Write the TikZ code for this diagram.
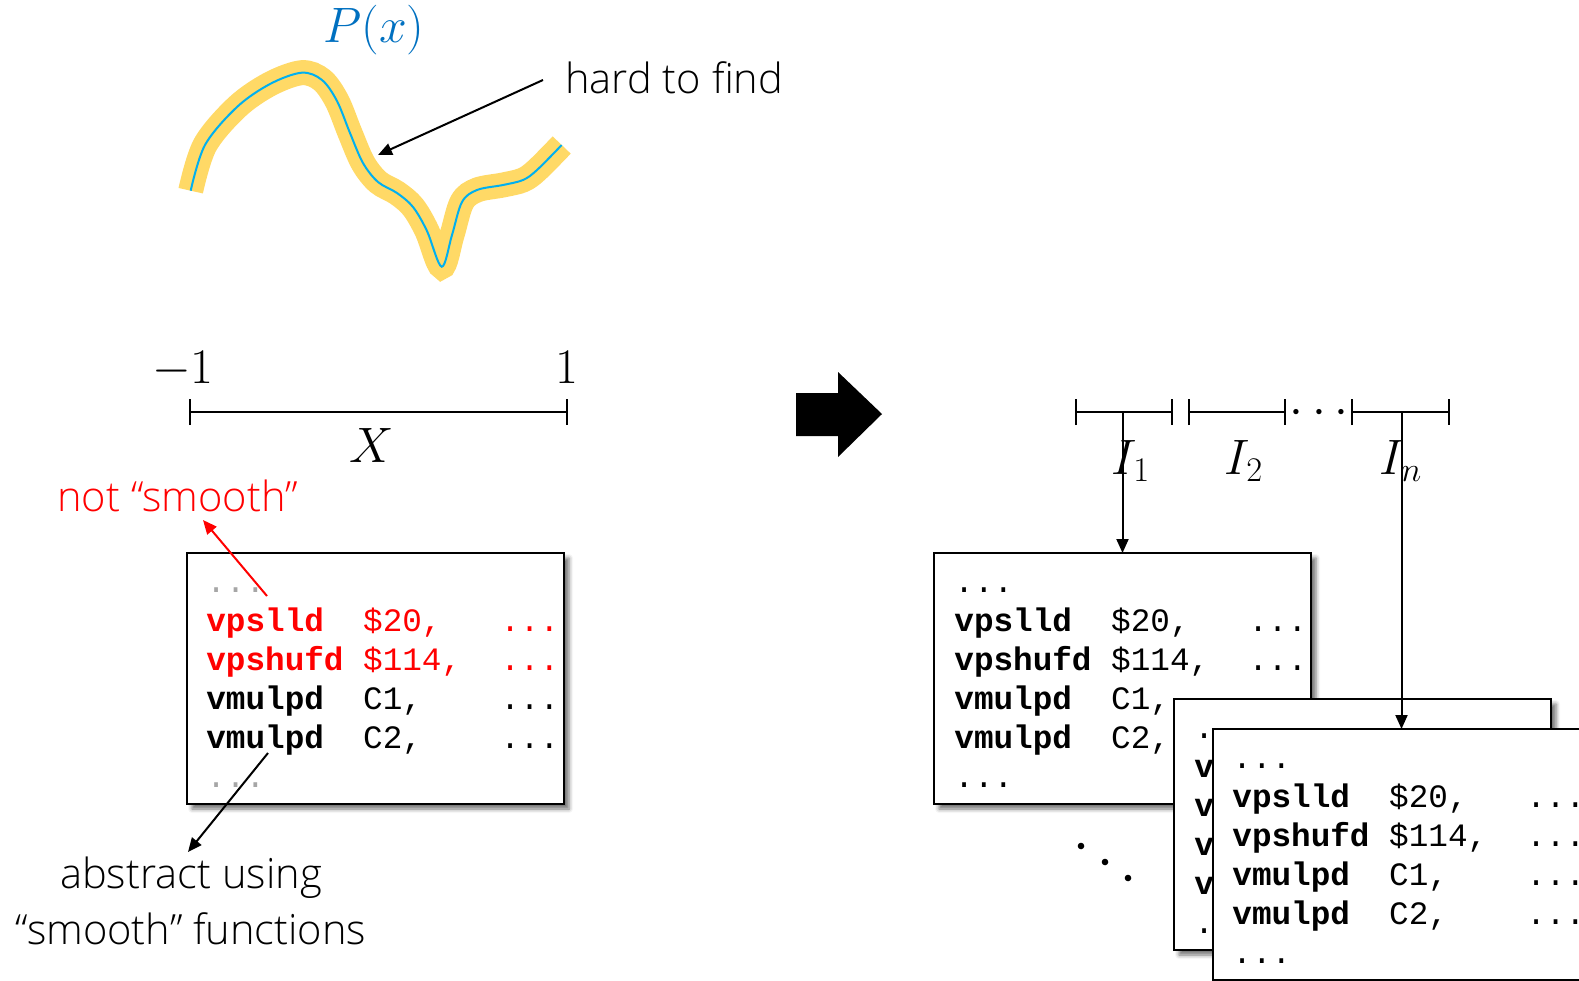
\documentclass[tikz,border=0pt]{standalone}
\usepackage{fontspec}
\usetikzlibrary{arrows.meta,shadows.blur}
\newfontfamily\uifont{Open Sans Light}
\newfontfamily\codefont{Liberation Mono}
\definecolor{hiliteyellow}{RGB}{255,217,102}
\definecolor{traceblue}{RGB}{0,176,240}
\definecolor{mathblue}{RGB}{0,112,192}
\definecolor{elidegray}{RGB}{166,166,166}
\newlength\cw
\setlength\cw{9.8pt}
% one instruction: mnemonic, operand, rest
\newcommand\asm[3]{\makebox[8\cw][l]{\bfseries#1}\makebox[7\cw][l]{#2}#3}
% a short listing; #1 colour of the elided lines, #2 colour of the first two instructions
\newcommand\listing[2]{%
  \begin{tabular}[t]{@{}l@{}}
  \textcolor{#1}{...}\\
  \color{#2}\asm{vpslld}{\$20,}{...}\\
  \color{#2}\asm{vpshufd}{\$114,}{...}\\
  \asm{vmulpd}{C1,}{...}\\
  \asm{vmulpd}{C2,}{...}\\
  \textcolor{#1}{...}
  \end{tabular}}
\begin{document}
\begin{tikzpicture}[x=0.5pt,y=-0.5pt,
  codebox/.style={draw=black,line width=1pt,fill=white,minimum width=188.5pt,
    minimum height=125.5pt,inner sep=0pt,outer sep=0pt,anchor=north west,
    blur shadow={shadow xshift=2.5pt,shadow yshift=-2.5pt,shadow blur radius=2pt,shadow opacity=55}},
  codetext/.style={anchor=base west,inner sep=0pt,font={\codefont\fontsize{16.33}{19.5}\selectfont}},
  uitext/.style={inner sep=0pt,font={\uifont\fontsize{20.8}{28}\selectfont}},
  mathtext/.style={inner sep=0pt,anchor=base,font={\fontsize{27}{32}\selectfont}},
  pointer/.style={line width=1pt,-{Triangle[length=7pt,width=6pt]}},
  interval/.style={line width=1pt,{Bar[width=13pt]}-{Bar[width=13pt]}},
]
\useasboundingbox (0,0) rectangle (1579,980);
\clip (0,0) rectangle (1579,980);

% the polynomial and its highlighted band
\draw[traceblue,line width=1pt,line cap=butt,
      preaction={draw=hiliteyellow,line width=12.5pt,line cap=butt}]
  plot[smooth,tension=0.55] coordinates {
  (190.7,190.7) (205,145) (237,107) (270,84) (301.7,72.7) (322,80) (337,101)
  (350,133) (363,163) (378,182) (397,193) (413,207) (427,231) (441.7,266.7)
  (452,235) (462,202) (477,190) (503,185) (523,180) (537,170) (561.7,145)};
\node[mathtext,text=mathblue] (px) at (374,42) {$P(x)$};

\node[uitext,anchor=base west] (hard) at (565,93) {hard to find};
\coordinate (hardfrom) at (543,80);
\coordinate (hardto) at (378,155);
\draw[pointer] (hardfrom) -- (hardto);

% input domain
\coordinate (xa) at (189,412);
\coordinate (xb) at (568,412);
\draw[interval] (xa) -- (xb);
\node[mathtext] (lo) at (183,383) {$-1$};
\node[mathtext] (hi) at (567,383) {$1$};
\node[mathtext] (dom) at (372,462) {$X$};

% big arrow in the middle
\fill (796,393) -- (838,393) -- (838,372) -- (882,414) -- (838,457)
  -- (838,436) -- (796,436) -- cycle;

% left listing
\node[codebox] (lbox) at (187,553) {};
\node[codetext] (ltext) at (206,592) {\listing{elidegray}{red}};
\node[uitext,anchor=base west,text=red] (notsmooth) at (57,511) {not “smooth”};
\coordinate (redfrom) at (267,596);
\coordinate (redto) at (203,520);
\draw[pointer,red] (redfrom) -- (redto);
\node[uitext,anchor=base] (abstract) at (191,888)
  {\begin{tabular}[t]{@{}c@{}}abstract using\\“smooth” functions\end{tabular}};
\coordinate (absfrom) at (268,753);
\coordinate (absto) at (188,852);
\draw[pointer] (absfrom) -- (absto);

% right listings, one per sub-interval
\node[codebox] (box1) at (934,553) {};
\node[codetext] (text1) at (954,592) {\listing{black}{black}};
\node[codebox] (box2) at (1174,699) {};
\node[codetext] (text2) at (1194,738) {\listing{black}{black}};
\node[codebox] (box3) at (1213,729) {};
\node[codetext] (text3) at (1232,768) {\listing{black}{black}};

\fill (1081,846) circle[radius=3.3] (1105,862) circle[radius=3.3] (1128,878) circle[radius=3.3];

% split domain
\coordinate (s1a) at (1075,412);
\coordinate (s1b) at (1173,412);
\coordinate (s2a) at (1188,412);
\coordinate (s2b) at (1286,412);
\coordinate (s3a) at (1351,412);
\coordinate (s3b) at (1450,412);
\draw[interval] (s1a) -- (s1b);
\draw[interval] (s2a) -- (s2b);
\draw[interval] (s3a) -- (s3b);
\node[mathtext,anchor=center] (gap) at (1319,413) {$\cdots$};
\node[mathtext] (i1) at (1131,474) {$I_1$};
\node[mathtext] (i2) at (1244,474) {$I_2$};
\node[mathtext] (in) at (1401,474) {$I_n$};
\draw[pointer] (box1.north |- s1a) -- (box1.north);
\draw[pointer] (box3.north |- s3a) -- (box3.north);
\end{tikzpicture}
\end{document}
